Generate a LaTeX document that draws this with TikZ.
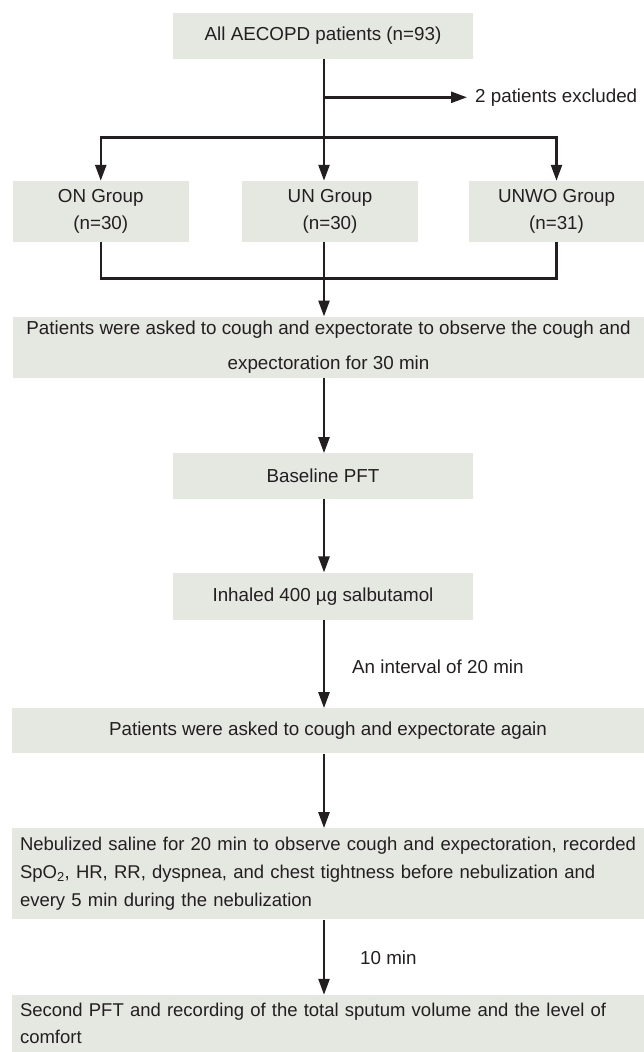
\documentclass[tikz,border=0pt]{standalone}
\usepackage{fontspec}
\setmainfont{Liberation Sans}
\usetikzlibrary{arrows.meta}
\definecolor{boxgray}{RGB}{229,231,225}
\definecolor{inkgray}{RGB}{35,31,32}
\begin{document}
\begin{tikzpicture}[x=1pt,y=-1pt,
  box/.style={fill=boxgray, draw=none, inner sep=0pt, align=center, text=inkgray,
    font=\fontsize{18.8}{27.7}\selectfont},
  flow/.style={draw=inkgray, line width=2.5pt},
  flowarrow/.style={flow, -{Triangle[length=16pt,width=11pt]}},
  note/.style={text=inkgray, font=\fontsize{18.8}{22}\selectfont, inner sep=0pt}]
\useasboundingbox (0,0) rectangle (644,1052);
\node[box, minimum width=300pt, minimum height=45.4pt] (all) at (323,36) {All AECOPD patients (n=93)};

\node[box, minimum width=175.5pt, minimum height=60.7pt] (on) at (100.75,211.3) {ON Group\\(n=30)};
\node[box, minimum width=176pt, minimum height=60.7pt] (un) at (330,211.3) {UN Group\\(n=30)};
\node[box, minimum width=175pt, minimum height=60.7pt] (unwo) at (556.5,211.3) {UNWO Group\\(n=31)};

\node[box, minimum width=631pt, minimum height=61pt, font=\fontsize{18.8}{35.7}\selectfont] (cough) at (328.5,347.2)
  {Patients were asked to cough and expectorate to observe the cough and\\expectoration for 30 min};
\node[box, minimum width=300pt, minimum height=45.4pt] (baseline) at (323,476) {Baseline PFT};
\node[box, minimum width=300pt, minimum height=47.3pt] (inhaled) at (323,596.3) {Inhaled 400 µg salbutamol};
\node[box, minimum width=632pt, minimum height=45pt] (again) at (328,730.8) {Patients were asked to cough and expectorate again};
\node[box, minimum height=91pt, text width=640pt, inner xsep=8pt, align=left, font=\fontsize{18.5}{28.3}\selectfont] (nebul) at (340,873.8)
  {Nebulized saline for 20 min to observe cough and expectoration, recorded\\SpO\textsubscript{2}, HR, RR, dyspnea, and chest tightness before nebulization and\\every 5 min during the nebulization};
\node[box, minimum height=57pt, text width=640pt, inner xsep=8pt, align=left, font=\fontsize{18.5}{27}\selectfont] (second) at (340,1023.5)
  {Second PFT and recording of the total sputum volume and the level of\\comfort};

% junctions and side notes
\coordinate (split) at (324,97.3);
\coordinate (fork) at (324,137.3);
\coordinate (join) at (324,278.3);
\node[note, anchor=west, inner xsep=8pt] (excl) at (467,97.3) {2 patients excluded};
\node[note, anchor=west] (gap20) at (352,666.7) {An interval of 20 min};
\node[note, anchor=west] (gap10) at (360,958) {10 min};

\draw[flow] (all.south -| fork) -- (fork);
\draw[flowarrow] (split) -- (excl.west);
\draw[flowarrow] (fork) -| (on.north);
\draw[flowarrow] (fork) -| (unwo.north);
\draw[flowarrow] (fork) -- (un.north -| fork);

\draw[flow] (on.south) |- (join) -| (unwo.south);
\draw[flow] (un.south -| join) -- (join);
\draw[flowarrow] (join) -- (cough.north -| join);
\draw[flowarrow] (cough.south -| join) -- (baseline.north -| join);
\draw[flowarrow] (baseline.south -| join) -- (inhaled.north -| join);
\draw[flowarrow] (inhaled.south -| join) -- (again.north -| join);
\draw[flowarrow] (again.south -| join) -- (nebul.north -| join);
\draw[flowarrow] (nebul.south -| join) -- (second.north -| join);
\end{tikzpicture}
\end{document}
